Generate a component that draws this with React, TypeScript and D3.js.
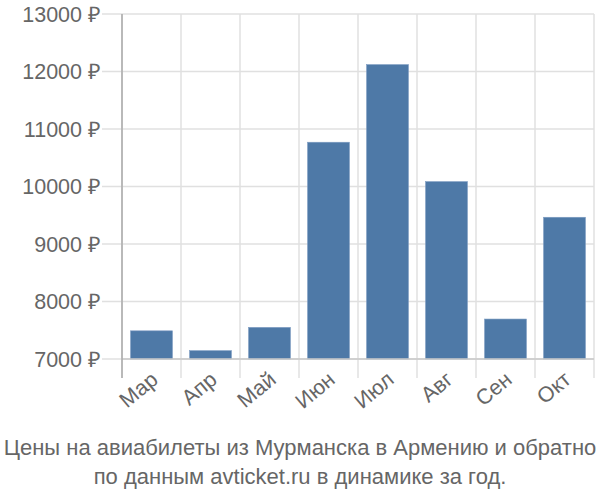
import React, { useEffect, useRef } from "react";
import * as d3 from "d3";

const months = ["Мар", "Апр", "Май", "Июн", "Июл", "Авг", "Сен", "Окт"];
const prices = [7490, 7145, 7550, 10770, 12120, 10085, 7695, 9465];
const yTicks = [7000, 8000, 9000, 10000, 11000, 12000, 13000];
const titleLines = [
  "Цены на авиабилеты из Мурманска в Армению и обратно",
  "по данным avticket.ru в динамике за год.",
];

const width = 600;
const height = 500;
const margin = { top: 14, right: 6, bottom: 141, left: 122 };

const App: React.FC = () => {
  const svgRef = useRef<SVGSVGElement>(null);

  useEffect(() => {
    if (!svgRef.current) return;
    const svg = d3.select(svgRef.current);
    svg.selectAll("*").remove();

    const innerW = width - margin.left - margin.right;
    const innerH = height - margin.top - margin.bottom;
    const font = "'Liberation Sans', Arial, sans-serif";

    const x = d3.scaleBand<string>().domain(months).range([0, innerW]).paddingInner(0.29).paddingOuter(0.145);
    const y = d3.scaleLinear().domain([7000, 13000]).range([innerH, 0]);

    const g = svg.append("g").attr("transform", `translate(${margin.left},${margin.top})`);

    // horizontal grid
    g.selectAll("line.hgrid")
      .data(yTicks)
      .enter()
      .append("line")
      .attr("x1", -20)
      .attr("x2", innerW)
      .attr("y1", (d) => y(d))
      .attr("y2", (d) => y(d))
      .attr("stroke", "#e0e0e0")
      .attr("stroke-width", 1.5);

    // vertical grid at band edges
    const step = innerW / months.length;
    const edges = d3.range(months.length + 1).map((i) => i * step);
    g.selectAll("line.vgrid")
      .data(edges)
      .enter()
      .append("line")
      .attr("x1", (d) => d)
      .attr("x2", (d) => d)
      .attr("y1", 0)
      .attr("y2", innerH + 19)
      .attr("stroke", "#e0e0e0")
      .attr("stroke-width", 1.5);

    // bars
    g.selectAll("rect.bar")
      .data(prices)
      .enter()
      .append("rect")
      .attr("x", (_, i) => x(months[i]) as number)
      .attr("width", x.bandwidth())
      .attr("y", (d) => y(d))
      .attr("height", (d) => innerH - y(d))
      .attr("fill", "#4e79a7")
      .attr("stroke", "#7d9cc2")
      .attr("stroke-width", 0.6);

    // axis lines
    g.append("line")
      .attr("x1", 0)
      .attr("x2", innerW)
      .attr("y1", innerH)
      .attr("y2", innerH)
      .attr("stroke", "#c8c8c8")
      .attr("stroke-width", 1.5);
    g.append("line")
      .attr("x1", 0)
      .attr("x2", 0)
      .attr("y1", 0)
      .attr("y2", innerH + 19)
      .attr("stroke", "#aaaaaa")
      .attr("stroke-width", 1.5);

    // y labels
    g.selectAll("text.ylab")
      .data(yTicks)
      .enter()
      .append("text")
      .attr("x", -21)
      .attr("y", (d) => y(d))
      .attr("dy", "0.35em")
      .attr("text-anchor", "end")
      .attr("fill", "#666")
      .style("font-family", font)
      .style("font-size", "21.5px")
      .text((d) => `${d} ₽`);

    // x labels
    g.selectAll("text.xlab")
      .data(months)
      .enter()
      .append("text")
      .attr("transform", (d) => `translate(${(x(d) as number) + x.bandwidth() / 2 + 3},${innerH + 17}) rotate(-40)`)
      .attr("text-anchor", "end")
      .attr("dy", "0.35em")
      .attr("fill", "#666")
      .style("font-family", font)
      .style("font-size", "21.5px")
      .text((d) => d);

    // title
    svg
      .selectAll("text.title")
      .data(titleLines)
      .enter()
      .append("text")
      .attr("x", 300)
      .attr("y", (_, i) => 455 + i * 29)
      .attr("text-anchor", "middle")
      .attr("fill", "#666")
      .style("font-family", font)
      .style("font-size", "22px")
      .text((d) => d);
  }, []);

  return (
    <svg
      ref={svgRef}
      width={width}
      height={height}
      style={{ display: "block", position: "absolute", left: 0, top: 0 }}
    />
  );
};

export default App;
